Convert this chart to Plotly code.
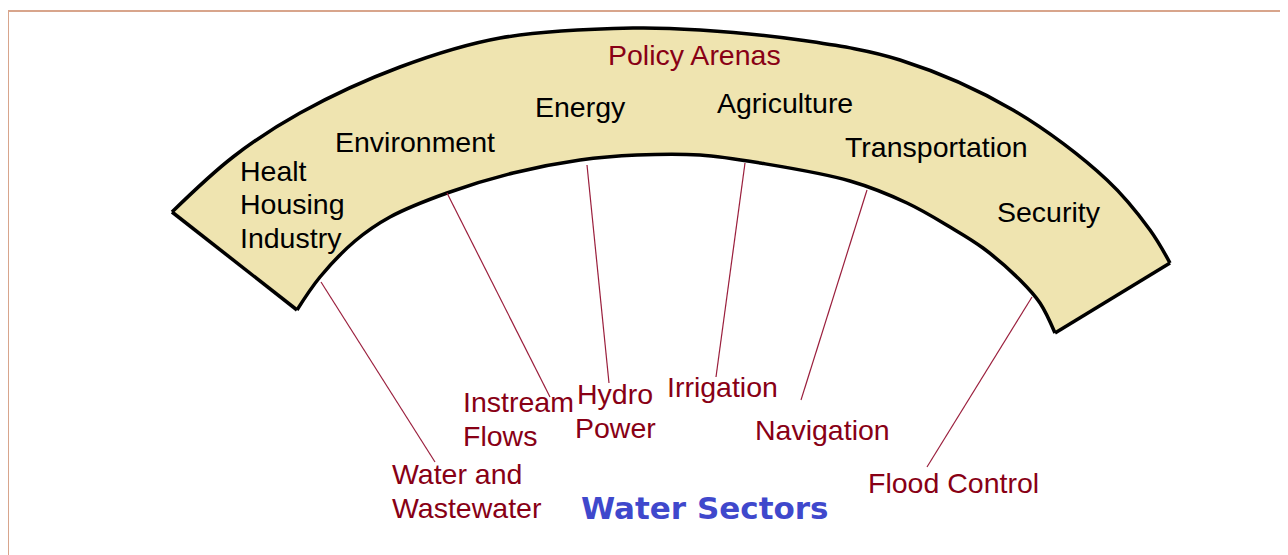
import plotly.graph_objects as go

# ---- diagram geometry (pixel space of the 1288x555 canvas) ----
outer_x = [172, 233, 300, 400, 500, 633, 700, 800, 900, 1013, 1107, 1150, 1170]
outer_y = [212, 157, 113, 67, 38, 28, 30, 40, 60, 110, 180, 230, 263]
inner_x = [297, 320, 355, 390, 447, 513, 580, 637, 700, 760, 850, 907, 950, 983,
           1020, 1040, 1055]
inner_y = [310, 277, 241, 217, 193, 173, 160, 155, 155, 163, 181, 203, 227, 248,
           280, 303, 333]

# ---- policy arenas (inside the band) ----
arena_labels = ["Healt<br>Housing<br>Industry", "Environment", "Energy",
                "Agriculture", "Transportation", "Security"]
arena_x = [238, 415, 580, 785, 936, 1049]
arena_y = [204, 142, 107, 103, 147, 212]
arena_anchor = ["left", "center", "center", "center", "center", "center"]

# ---- water sectors ----
sector_labels = ["Water and<br>Wastewater", "Instream<br>Flows", "Hydro<br>Power",
                 "Irrigation", "Navigation", "Flood Control"]
sector_x = [390, 461, 615, 722, 822, 953]
sector_y = [491, 419, 411, 387, 430, 483]
sector_anchor = ["left", "left", "center", "center", "center", "center"]
# connector lines: start on the band's inner edge, end at the label
link_x0 = [321, 447, 587, 745, 867, 1032]
link_y0 = [282, 193, 165, 163, 190, 297]
link_x1 = [435, 550, 609, 716, 801, 927]
link_y1 = [462, 397, 383, 377, 400, 467]

band_fill = "#EFE4B0"
dark_red = "#880015"
link_color = "#9a1e3c"
frame_color = "#D8A58C"
line_gap = 33.5

fig = go.Figure()

# frame (open at bottom, it continues past the canvas)
fig.add_trace(go.Scatter(x=[8, 8, 1282, 1282], y=[570, 11, 11, 570], mode="lines",
                         line=dict(color=frame_color, width=2), hoverinfo="skip"))


def near(p, q, f=0.03):
    return p + f * (q - p)


# band fill: one closed path (outer left->right, right end, inner right->left, left end)
ox0, oy0, ox1, oy1 = outer_x[0], outer_y[0], outer_x[-1], outer_y[-1]
ix0, iy0, ix1, iy1 = inner_x[0], inner_y[0], inner_x[-1], inner_y[-1]
fill_x = (outer_x + [near(ox1, ix1), near(ix1, ox1)] + inner_x[::-1]
          + [near(ix0, ox0), near(ox0, ix0)])
fill_y = (outer_y + [near(oy1, iy1), near(iy1, oy1)] + inner_y[::-1]
          + [near(iy0, oy0), near(oy0, iy0)])
fig.add_trace(go.Scatter(x=fill_x, y=fill_y, mode="lines", fill="toself",
                         fillcolor=band_fill,
                         line=dict(color="rgba(0,0,0,0)", width=0, shape="spline",
                                   simplify=False),
                         hoverinfo="skip"))

# band outline
for xs, ys in [(outer_x, outer_y), (inner_x, inner_y)]:
    fig.add_trace(go.Scatter(x=xs, y=ys, mode="lines",
                             line=dict(color="black", width=3.5, shape="spline"),
                             hoverinfo="skip"))
fig.add_trace(go.Scatter(x=[ox0, ix0], y=[oy0, iy0], mode="lines",
                         line=dict(color="black", width=3.5), hoverinfo="skip"))
fig.add_trace(go.Scatter(x=[ox1, ix1], y=[oy1, iy1], mode="lines",
                         line=dict(color="black", width=3.5), hoverinfo="skip"))

# connectors
for a, b, c, d in zip(link_x0, link_y0, link_x1, link_y1):
    fig.add_trace(go.Scatter(x=[a, c], y=[b, d], mode="lines",
                             line=dict(color=link_color, width=1.2), hoverinfo="skip"))

font_main = "Liberation Sans, Arial, sans-serif"
fs = 28.5


def add_label(text, x, y, anchor, color):
    lines = text.split("<br>")
    n = len(lines)
    for i, ln in enumerate(lines):
        fig.add_annotation(x=x, y=y + (i - (n - 1) / 2) * line_gap, text=ln,
                           showarrow=False, xanchor=anchor,
                           font=dict(family=font_main, size=fs, color=color))


add_label("Policy Arenas", 694, 55, "center", dark_red)
for t, x, y, anc in zip(arena_labels, arena_x, arena_y, arena_anchor):
    add_label(t, x, y, anc, "black")
for t, x, y, anc in zip(sector_labels, sector_x, sector_y, sector_anchor):
    add_label(t, x, y, anc, dark_red)

fig.add_annotation(x=705, y=508, text="<b>Water Sectors</b>", showarrow=False,
                   font=dict(family="DejaVu Sans", size=31, color="#3F48CC"))

# the page body adds an 8px offset, so the figure covers canvas pixels 8..1288 / 8..555
fig.update_layout(
    width=1280, height=547, margin=dict(l=0, r=0, t=0, b=0),
    paper_bgcolor="white", plot_bgcolor="white", showlegend=False,
    xaxis=dict(range=[8, 1288], visible=False, fixedrange=True),
    yaxis=dict(range=[555, 8], visible=False, fixedrange=True),
)

fig.write_html("out.html")
